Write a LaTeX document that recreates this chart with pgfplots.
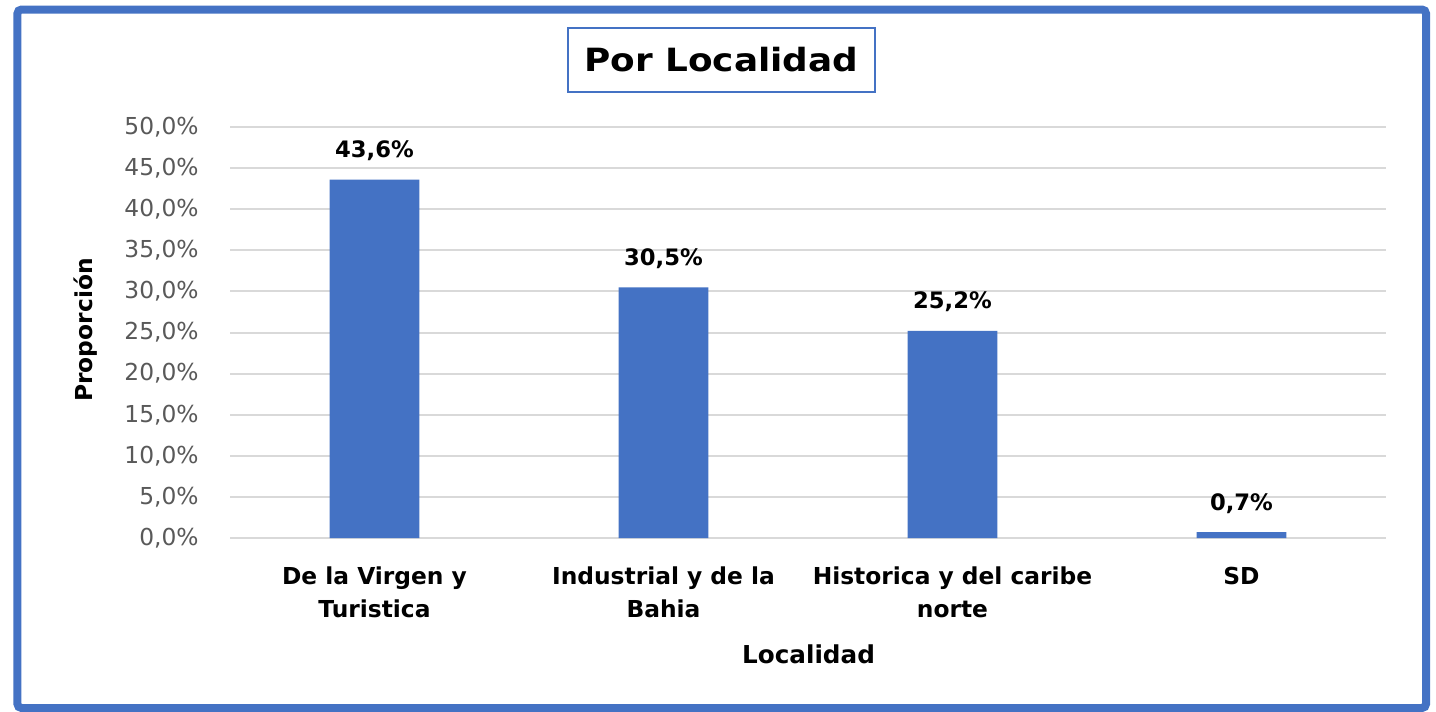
\documentclass[border=0pt]{standalone}
\usepackage{pgfplots}
\pgfplotsset{compat=1.18}
\usepackage{fontspec}
\setmainfont{DejaVu Sans}
\definecolor{barblue}{HTML}{4472C4}
\definecolor{tickgray}{HTML}{595959}
\definecolor{gridgray}{HTML}{D9D9D9}
\begin{document}
\begin{tikzpicture}
\useasboundingbox (0,0) rectangle (1077pt,533.25pt);
\fill[white] (0,0) rectangle (1077pt,533.25pt);
\draw[barblue, line width=6pt, rounded corners=3pt] (13.1pt,2.25pt) rectangle (1069.5pt,526.1pt);
\draw[barblue, line width=1.5pt] (426pt,512.25pt) rectangle (656.25pt,464.25pt);
\node[anchor=base, inner sep=0pt, font=\fontsize{24}{28}\selectfont\bfseries, xscale=1.12] at (541pt,479.25pt) {Por Localidad};
\node[rotate=90, inner sep=0pt, font=\fontsize{17.5}{20}\selectfont\bfseries] at (64.5pt,285.75pt) {Proporción};
\node[anchor=base, inner sep=0pt, font=\fontsize{18.5}{22}\selectfont\bfseries] at (606.4pt,35.25pt) {Localidad};
\begin{axis}[
  at={(172.5pt,129.75pt)}, anchor=south west,
  scale only axis, width=867pt, height=308.25pt,
  xmin=-0.5, xmax=3.5, ymin=0, ymax=50,
  axis line style={draw=none},
  major tick length=0pt,
  ytick={0,5,...,50},
  ymajorgrids, grid style={gridgray, line width=1.5pt},
  xtick={0,1,2,3},
  xticklabels={{De la Virgen y\\Turistica},{Industrial y de la\\Bahia},{Historica y del caribe\\norte},{SD}},
  xticklabel style={align=center, font=\fontsize{17.5}{25}\selectfont\bfseries, yshift=-18pt},
  yticklabel={\pgfmathprintnumber[fixed, fixed zerofill, precision=1, use comma]{\tick}\%},
  yticklabel style={font=\fontsize{17.5}{20}\selectfont, text=tickgray, xshift=-20pt},
  /pgf/number format/assume math mode=true,
  ybar, bar width=0.311,
  nodes near coords={\pgfmathprintnumber[fixed, fixed zerofill, precision=1, use comma]{\pgfplotspointmeta}\%},
  nodes near coords style={font=\fontsize{17}{20}\selectfont\bfseries, yshift=10.5pt},
  clip=false,
]
\addplot[fill=barblue, draw=none] coordinates {(0,43.6) (1,30.5) (2,25.2) (3,0.7)};
\end{axis}
\end{tikzpicture}
\end{document}
